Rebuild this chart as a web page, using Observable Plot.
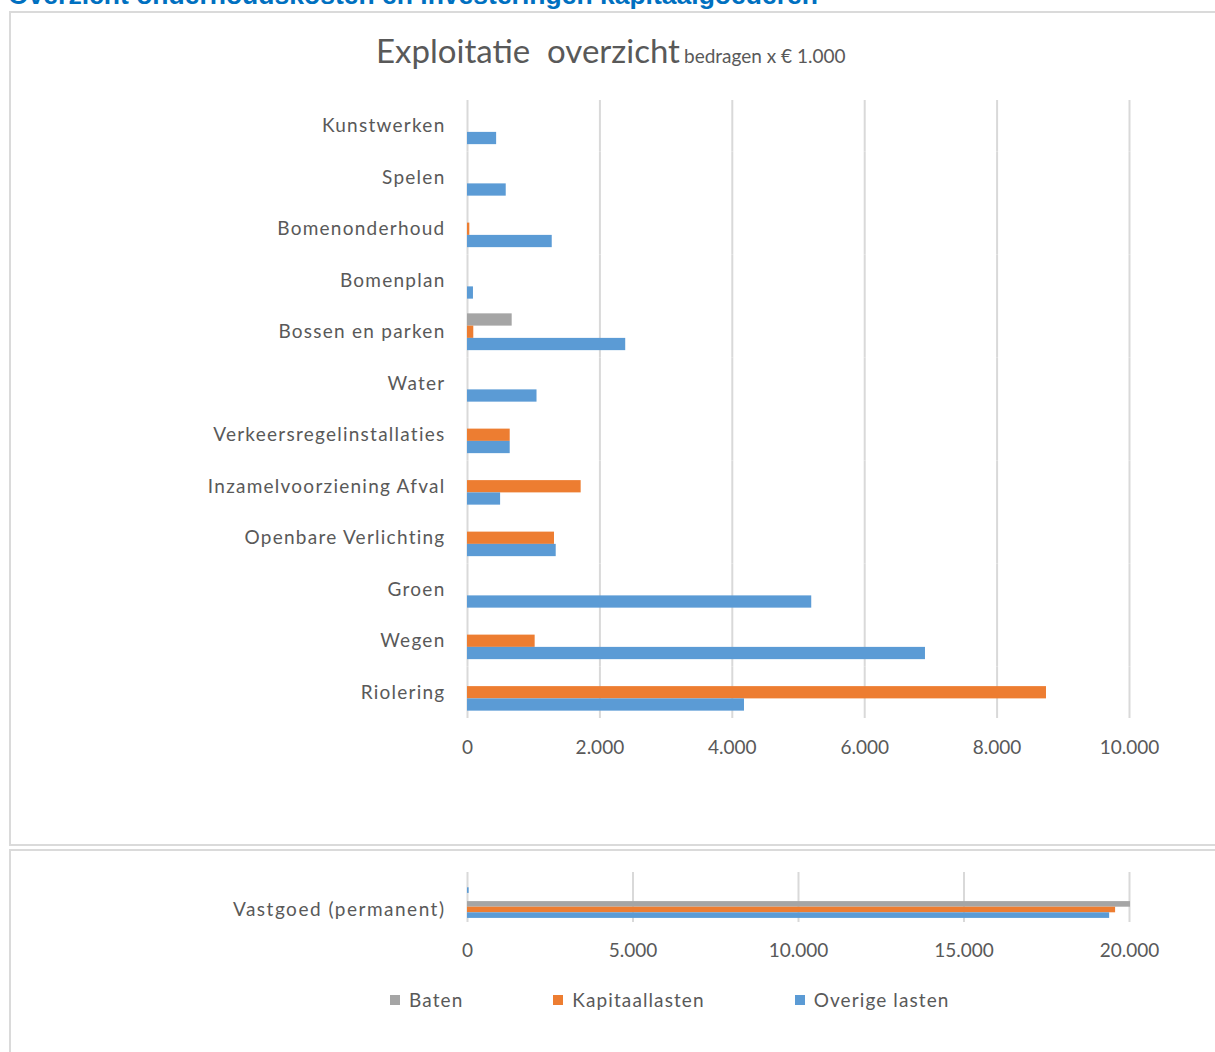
<!DOCTYPE html>
<html>
<head>
<meta charset="utf-8">
<script src="https://cdn.jsdelivr.net/npm/d3@7"></script>
<script src="https://cdn.jsdelivr.net/npm/@observablehq/plot@0.6"></script>
<style>
  html, body { margin: 0; padding: 0; background: #fff; width: 1215px; height: 1052px; overflow: hidden; position: relative; }
  #heading { position: absolute; left: 8px; top: -20px; margin: 0; font-family: "Liberation Sans", Arial, sans-serif; font-weight: bold; font-size: 26.5px; color: #0070c0; white-space: nowrap; }
  .box { position: absolute; left: 9px; width: 1230px; border: 2px solid #dadada; box-sizing: border-box; }
  #box1 { top: 11px; height: 835px; }
  #box2 { top: 849px; height: 230px; }
  #title { position: absolute; left: 376px; top: 30px; font-family: Lato, sans-serif; color: #595959; white-space: nowrap; }
  #title .main { font-size: 33px; }
  #title .sub { font-size: 19px; letter-spacing: 0px; }
  .chart { position: absolute; left: 0; }
  #chart1 { top: 0; }
  #chart2 { top: 850px; }
  .chart svg [aria-label="fy-axis tick label"] text { letter-spacing: 1.25px; }
  #chart2 svg [aria-label="fy-axis tick label"] text { letter-spacing: 1.5px; }
  #legend { position: absolute; left: 390px; top: 988px; display: flex; gap: 90px; font-family: Lato, sans-serif; font-size: 19px; color: #595959; letter-spacing: 1.1px; }
  #legend .item { display: flex; align-items: center; }
  #legend .sw { width: 10px; height: 10px; margin-right: 9px; }
</style>
</head>
<body>
<div id="heading">Overzicht onderhoudskosten en investeringen kapitaalgoederen</div>
<div class="box" id="box1"></div>
<div class="box" id="box2"></div>
<div id="title"><span class="main">Exploitatie&nbsp; overzicht</span> <span class="sub">bedragen x € 1.000</span></div>
<div class="chart" id="chart1"></div>
<div class="chart" id="chart2"></div>
<div id="legend"></div>
<script>
// ---- data ----
const categories = ["Kunstwerken", "Spelen", "Bomenonderhoud", "Bomenplan", "Bossen en parken", "Water",
  "Verkeersregelinstallaties", "Inzamelvoorziening Afval", "Openbare Verlichting", "Groen", "Wegen", "Riolering"];
const baten          = [0, 0, 0, 0, 675, 0, 0, 0, 0, 0, 0, 0];
const kapitaallasten = [0, 0, 35, 0, 95, 0, 645, 1717, 1314, 0, 1022, 8746];
const overigeLasten  = [440, 585, 1280, 90, 2390, 1050, 645, 500, 1340, 5200, 6918, 4184];

const categories2 = [" ", "Vastgoed (permanent)"];
const baten2          = [0, 20030];
const kapitaallasten2 = [0, 19580];
const overigeLasten2  = [50, 19400];

const seriesNames = ["Baten", "Kapitaallasten", "Overige lasten"];
const seriesColors = ["#a5a5a5", "#ed7d31", "#5b9bd5"];
const ticks1 = [0, 2000, 4000, 6000, 8000, 10000];
const ticks2 = [0, 5000, 10000, 15000, 20000];

// ---- build tables ----
function table(cats, cols) {
  const out = [];
  cats.forEach((c, i) => cols.forEach((col, j) => out.push({cat: c, series: seriesNames[j], value: col[i]})));
  return out;
}
const data1 = table(categories, [baten, kapitaallasten, overigeLasten]);
const data2 = table(categories2, [baten2, kapitaallasten2, overigeLasten2]);

const nl = d3.formatLocale({decimal: ",", thousands: ".", grouping: [3], currency: ["€", ""]});
const fmt = nl.format(",d");

const textStyle = {fontFamily: "Lato, sans-serif", fontSize: "19px", color: "#595959", background: "transparent", overflow: "visible"};

const chart1 = Plot.plot({
  width: 1215, height: 845,
  marginLeft: 467, marginRight: 86, marginTop: 100, marginBottom: 127,
  style: textStyle,
  x: {domain: [0, 10000], ticks: ticks1, tickFormat: fmt, tickSize: 0, tickPadding: 22, label: null, line: false},
  fy: {domain: categories, padding: 0, round: false, tickSize: 0, tickPadding: 22, label: null},
  y: {domain: seriesNames, paddingInner: 0, paddingOuter: 0.6, round: false, axis: null},
  color: {domain: seriesNames, range: seriesColors},
  marks: [
    Plot.gridX(ticks1, {stroke: "#d9d9d9", strokeOpacity: 1, strokeWidth: 2}),
    Plot.barX(data1, {x: "value", y: "series", fy: "cat", fill: "series"})
  ]
});
document.getElementById("chart1").appendChild(chart1);

const chart2 = Plot.plot({
  width: 1215, height: 122,
  marginLeft: 467, marginRight: 86, marginTop: 22, marginBottom: 50,
  style: textStyle,
  x: {domain: [0, 20000], ticks: ticks2, tickFormat: fmt, tickSize: 0, tickPadding: 21, label: null, line: false},
  fy: {domain: categories2, padding: 0, round: false, tickSize: 0, tickPadding: 22, label: null},
  y: {domain: seriesNames, paddingInner: 0, paddingOuter: 0.73, round: false, axis: null},
  color: {domain: seriesNames, range: seriesColors},
  marks: [
    Plot.gridX(ticks2, {stroke: "#d9d9d9", strokeOpacity: 1, strokeWidth: 2}),
    Plot.barX(data2, {x: "value", y: "series", fy: "cat", fill: "series"})
  ]
});
document.getElementById("chart2").appendChild(chart2);

const legend = document.getElementById("legend");
seriesNames.forEach((s, i) => {
  const item = document.createElement("div");
  item.className = "item";
  const sw = document.createElement("span");
  sw.className = "sw";
  sw.style.background = seriesColors[i];
  const t = document.createElement("span");
  t.textContent = s;
  item.appendChild(sw); item.appendChild(t);
  legend.appendChild(item);
});
</script>
</body>
</html>
